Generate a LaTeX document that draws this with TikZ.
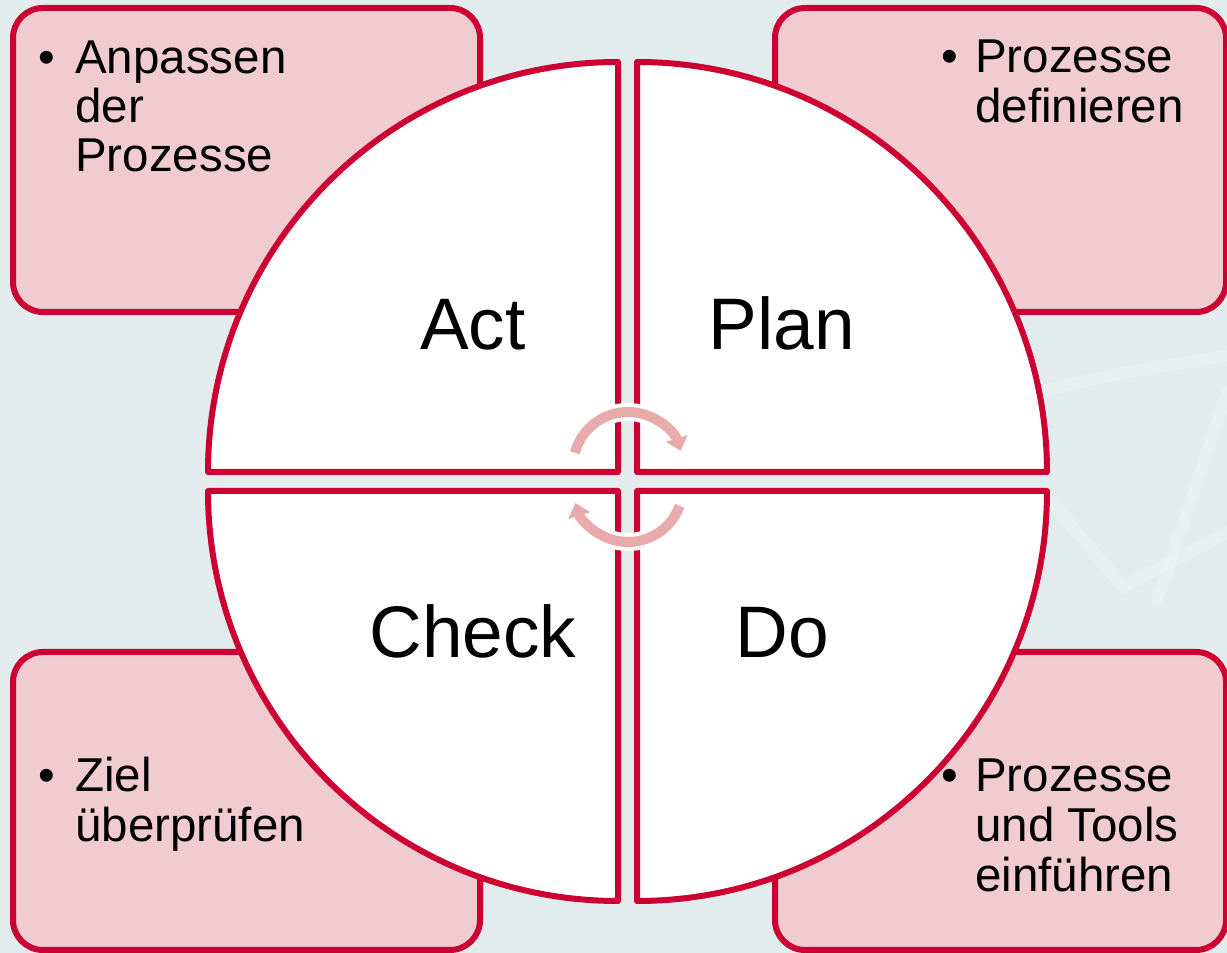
\documentclass[tikz,border=0pt]{standalone}
\usepackage{fontspec}
\setmainfont{Liberation Sans}
\usetikzlibrary{arrows.meta}
\definecolor{bg}{RGB}{226,236,236}
\definecolor{pdred}{RGB}{204,0,51}
\definecolor{boxpink}{RGB}{240,203,208}
\definecolor{arcpink}{RGB}{233,170,172}
\begin{document}
\begin{tikzpicture}[x=1pt,y=1pt,
  infobox/.style={draw=pdred, line width=6pt, fill=boxpink, rounded corners=30pt},
  quarter/.style={draw=pdred, line width=6pt, fill=white, line join=round},
  boxtext/.style={anchor=base west, inner sep=0pt, font=\fontsize{47.5}{49}\selectfont},
  bigtext/.style={anchor=base, inner sep=0pt, font=\fontsize{73}{80}\selectfont},
  cyclearc/.style={draw=arcpink, line width=10pt, -{Triangle[width=22pt,length=13pt]}},
  halo/.style={draw=white, line width=18pt},
  bgline/.style={draw=white, opacity=0.2, line width=12pt, line cap=round}]
% background
\useasboundingbox (0,0) rectangle (1227,953);
\fill[bg] (0,0) rectangle (1227,953);
\path[bgline] (1047,563) .. controls (1120,580) .. (1227,597);
\path[bgline] (1227,560) -- (1157,353);
\path[bgline] (1050,453) -- (1123,366) -- (1227,420);
% info boxes
\path[infobox] (13,641) rectangle (480,945);
\path[infobox] (775,641) rectangle (1226,945);
\path[infobox] (13,3) rectangle (480,301);
\path[infobox] (775,3) rectangle (1226,301);
% quadrants
\path[quarter] (618,481) -- (208,481) arc[start angle=180,end angle=90,radius=410] -- cycle;
\path[quarter] (637,481) -- (637,891) arc[start angle=90,end angle=0,radius=410] -- cycle;
\path[quarter] (618,462) -- (208,462) arc[start angle=180,end angle=270,radius=410] -- cycle;
\path[quarter] (637,462) -- (1047,462) arc[start angle=0,end angle=-90,radius=410] -- cycle;
% cycle arrows
\coordinate (cu) at (628,486);
\coordinate (cl) at (628,466);
\path[halo] (cu) ++(165:55) arc[start angle=165,end angle=17,radius=55];
\path[cyclearc] (cu) ++(165:55) arc[start angle=165,end angle=17,radius=55];
\path[halo] (cl) ++(-20:55) arc[start angle=-20,end angle=-163,radius=55];
\path[cyclearc] (cl) ++(-20:55) arc[start angle=-20,end angle=-163,radius=55];
% quadrant labels
\node[bigtext] (act) at (473,603) {Act};
\node[bigtext] (plan) at (782,603) {Plan};
\node[bigtext] (check) at (473,295) {Check};
\node[bigtext] (do) at (782,295) {Do};
% box texts
\node[boxtext] (tlb) at (38,879) {•};
\node[boxtext] (tl1) at (75,879) {Anpassen};
\node[boxtext] (tl2) at (75,830) {der};
\node[boxtext] (tl3) at (75,781) {Prozesse};
\node[boxtext] (trb) at (941,880) {•};
\node[boxtext] (tr1) at (975,880) {Prozesse};
\node[boxtext] (tr2) at (975,830) {definieren};
\node[boxtext] (brb) at (941,161) {•};
\node[boxtext] (br1) at (975,161) {Prozesse};
\node[boxtext] (br2) at (975,111) {und Tools};
\node[boxtext] (br3) at (975,61) {einführen};
\node[boxtext] (blb) at (38,161) {•};
\node[boxtext] (bl1) at (75,161) {Ziel};
\node[boxtext] (bl2) at (75,111) {überprüfen};
\end{tikzpicture}
\end{document}
